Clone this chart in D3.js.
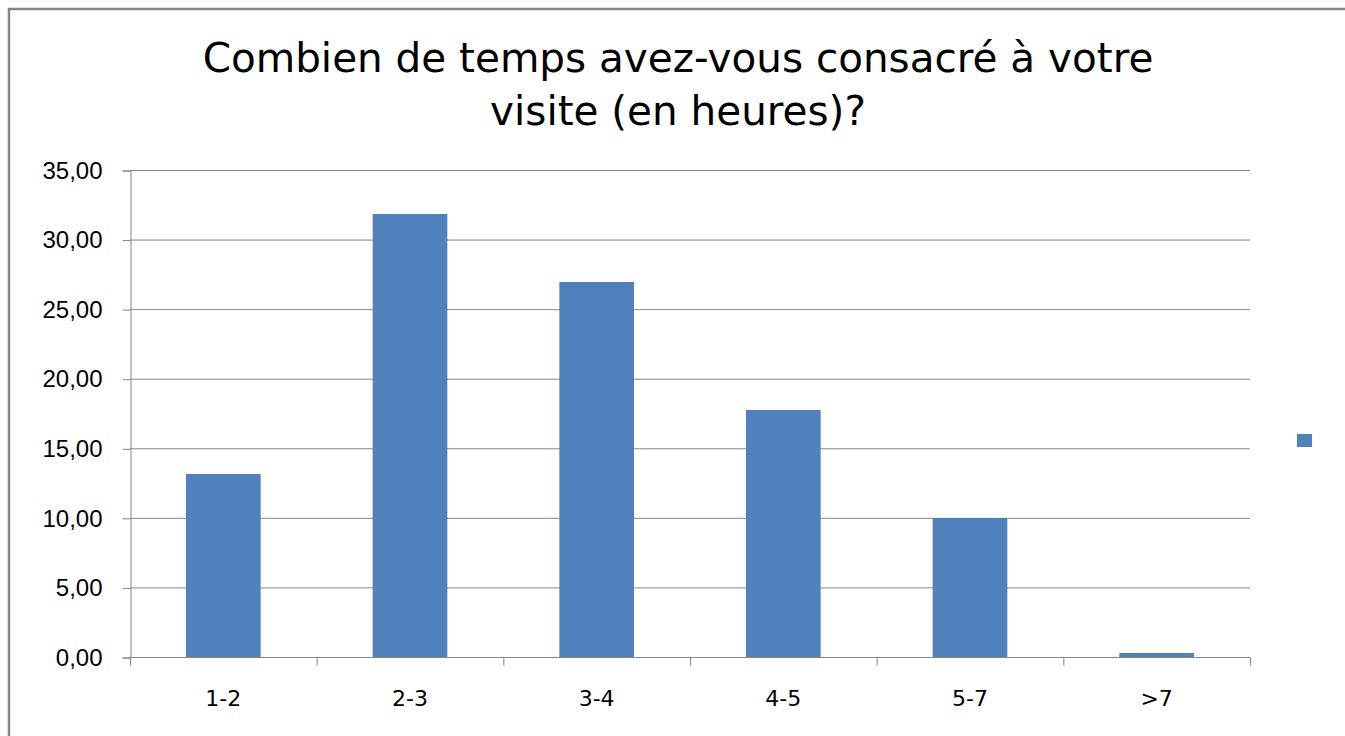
<!DOCTYPE html>
<html>
<head>
<meta charset="utf-8">
<script src="https://cdn.jsdelivr.net/npm/d3@7"></script>
<style>
  body { margin: 0; background: #fff; }
  svg { display: block; font-family: "DejaVu Sans", Verdana, sans-serif; }
</style>
</head>
<body>
<svg width="1345" height="736"></svg>
<script>
// chart values
var categories = ["1-2", "2-3", "3-4", "4-5", "5-7", ">7"];
var values = [13.15, 31.84, 26.95, 17.75, 9.99, 0.29];
var yTicks = [0, 5, 10, 15, 20, 25, 30, 35];
var titleLines = ["Combien de temps avez-vous consacré à votre", "visite (en heures)?"];

var svg = d3.select("svg");

// outer chart frame (only left and top edges are visible)
svg.append("path")
    .attr("d", "M9,736 V9 H1345")
    .attr("fill", "none")
    .attr("stroke", "#868686")
    .attr("stroke-width", 2.5);

var plotLeft = 130, plotRight = 1250, plotTop = 170, plotBottom = 657;

var x = d3.scaleBand().domain(categories).range([plotLeft, plotRight]).paddingInner(0.6).paddingOuter(0.3);
var xb = d3.scaleBand().domain(categories).range([plotLeft, plotRight]);
var y = d3.scaleLinear().domain([0, 35]).range([plotBottom, plotTop]);

// title
svg.append("g").selectAll("text")
    .data(titleLines)
    .enter().append("text")
    .attr("x", 678)
    .attr("y", function (d, i) { return 72 + i * 53; })
    .attr("text-anchor", "middle")
    .attr("font-size", 40.5)
    .attr("fill", "#000")
    .text(function (d) { return d; });

// gridlines
svg.append("g").selectAll("line")
    .data(yTicks.slice(1))
    .enter().append("line")
    .attr("x1", plotLeft).attr("x2", plotRight)
    .attr("y1", function (d) { return y(d) + 0.5; })
    .attr("y2", function (d) { return y(d) + 0.5; })
    .attr("stroke", "#868686")
    .attr("stroke-width", 1);

// bars
svg.append("g").selectAll("rect")
    .data(values)
    .enter().append("rect")
    .attr("x", function (d, i) { return x(categories[i]); })
    .attr("width", x.bandwidth())
    .attr("y", function (d) { return y(d); })
    .attr("height", function (d) { return plotBottom - y(d); })
    .attr("fill", "#4F81BD");

// y axis
var yAxis = d3.axisLeft(y)
    .tickValues(yTicks)
    .tickSize(8)
    .tickPadding(20)
    .tickFormat(function (d) { return d3.format(".2f")(d).replace(".", ","); });
var gy = svg.append("g").attr("transform", "translate(" + (plotLeft + 0.5) + ",0.5)").call(yAxis);
gy.select(".domain").attr("stroke", "#868686");
gy.selectAll(".tick line").attr("stroke", "#868686");
gy.selectAll("text").attr("font-size", 24).attr("fill", "#000");

// x axis
var gx = svg.append("g").attr("transform", "translate(0," + (plotBottom + 0.5) + ")");
gx.append("line")
    .attr("x1", plotLeft).attr("x2", plotRight)
    .attr("stroke", "#868686");
gx.selectAll(".xt")
    .data(categories.concat(["end"]))
    .enter().append("line")
    .attr("class", "xt")
    .attr("x1", function (d, i) { return (i < categories.length ? xb(d) : plotRight) + 0.5; })
    .attr("x2", function (d, i) { return (i < categories.length ? xb(d) : plotRight) + 0.5; })
    .attr("y1", 0).attr("y2", 8)
    .attr("stroke", "#868686");
gx.selectAll("text")
    .data(categories)
    .enter().append("text")
    .attr("x", function (d) { return xb(d) + xb.bandwidth() / 2; })
    .attr("y", 48)
    .attr("text-anchor", "middle")
    .attr("font-size", 22)
    .attr("fill", "#000")
    .text(function (d) { return d; });

// legend marker (series has no name)
svg.append("rect")
    .attr("x", 1297).attr("y", 434)
    .attr("width", 15).attr("height", 13)
    .attr("fill", "#4F81BD");
</script>
</body>
</html>
